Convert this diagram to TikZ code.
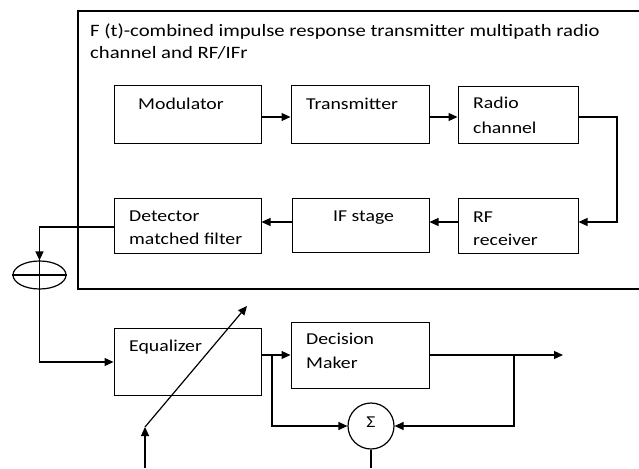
\documentclass[tikz,border=0pt]{standalone}
\usepackage{fontspec}
\setmainfont{Carlito}[FakeStretch=1.19]
\usetikzlibrary{arrows.meta,shapes.geometric}
\tikzset{
  blk/.style={draw, line width=1pt, rectangle, inner sep=0pt},
  lbl/.style={anchor=base west, inner sep=0pt, font=\fontsize{16.6pt}{20pt}\selectfont},
  ttl/.style={lbl, font=\fontsize{17.4pt}{21pt}\selectfont},
  wire/.style={line width=1.2pt},
  arr/.style={wire, -{Triangle[length=9pt,width=8pt]}},
}
\begin{document}
\begin{tikzpicture}[x=1pt, y=-1pt]
\useasboundingbox (0,0) rectangle (639,468);
\clip (0,0) rectangle (639,468);

% enclosing frame of the transmission chain
\draw[line width=1.2pt] (78,11) rectangle (660,289);
\node[ttl] (title1) at (90,37) {F (t)-combined impulse response transmitter multipath radio};
\node[ttl] (title2) at (90,59) {channel and RF/IFr};

% blocks
\node[blk, minimum width=147pt, minimum height=57pt] (mod) at (187.5,114.5) {};
\node[blk, minimum width=138pt, minimum height=57pt] (tx)  at (360,114.5) {};
\node[blk, minimum width=120pt, minimum height=56pt] (rch) at (518,115) {};
\node[blk, minimum width=120pt, minimum height=55pt] (rfr) at (518,225.5) {};
\node[blk, minimum width=137pt, minimum height=54pt] (ifs) at (360.5,225) {};
\node[blk, minimum width=147pt, minimum height=55pt] (det) at (187.5,225.5) {};
\node[blk, minimum width=147pt, minimum height=67pt] (eq)  at (187.5,361.5) {};
\node[blk, minimum width=138pt, minimum height=66pt] (dm)  at (360,355) {};
\node[draw, line width=1.2pt, circle, minimum size=46pt, inner sep=0pt] (sum) at (371,426) {};
\node[draw, line width=1.2pt, ellipse, minimum width=53pt, minimum height=28pt, inner sep=0pt] (ell) at (39.5,275) {};

% block labels
\node[lbl] (tmod) at (138,110) {Modulator};
\node[lbl] (ttx)  at (306,110) {Transmitter};
\node[lbl] (trch1) at (473,109) {Radio};
\node[lbl] (trch2) at (473,133) {channel};
\node[lbl] (trfr1) at (473,222) {RF};
\node[lbl] (trfr2) at (473,245) {receiver};
\node[lbl] (tifs) at (333,221) {IF stage};
\node[lbl] (tdet1) at (129,221) {Detector};
\node[lbl] (tdet2) at (129,244) {matched filter};
\node[lbl] (teq)  at (129,351) {Equalizer};
\node[lbl] (tdm1) at (306,344) {Decision};
\node[lbl] (tdm2) at (306,368) {Maker};
\node[lbl, anchor=center] (tsum) at (371,422) {Σ};

% adder cross
\draw[wire] (ell.west) -- (ell.east);
\draw[wire] (ell.north) -- (ell.south);

% connectors
\coordinate (out) at (563,355);
\coordinate (tapA) at (272,355);
\coordinate (tapB) at (514,355);
\coordinate (tuneIn) at (145,468);
\coordinate (tuneK) at (145,427);
\coordinate (tuneTip) at (247,306);
\coordinate (sumOut) at (371,468);

\draw[arr] (mod.east |- 0,117) -- (tx.west |- 0,117);
\draw[arr] (tx.east |- 0,117) -- (rch.west |- 0,117);
\draw[arr] (rch.east |- 0,117) -- (617,117) -- (617,222) -- (rfr.east |- 0,222);
\draw[arr] (rfr.west |- 0,222) -- (ifs.east |- 0,222);
\draw[arr] (ifs.west |- 0,222) -- (det.east |- 0,222);
\draw[arr] (det.west |- 0,227) -- (ell.north |- 0,227) -- (ell.north);
\draw[arr] (ell.south) -- (ell.south |- 0,362) -- (eq.west |- 0,362);
\draw[arr] (eq.east |- 0,355) -- (dm.west |- 0,355);
\draw[arr] (dm.east |- 0,355) -- (out);
\draw[arr] (tapA) -- (tapA |- sum.west) -- (sum.west);
\draw[arr] (tapB) -- (tapB |- sum.east) -- (sum.east);
\draw[wire] (sum.south) -- (sumOut);
\draw[arr] (tuneIn) -- (tuneK);
\draw[arr] (tuneK) -- (tuneTip);
\end{tikzpicture}
\end{document}
